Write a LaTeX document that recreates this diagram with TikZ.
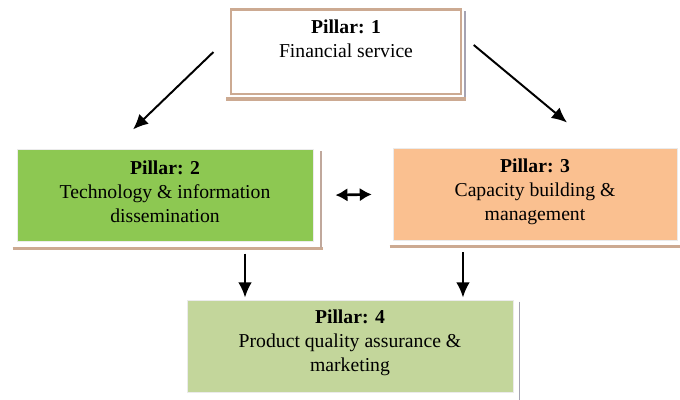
\documentclass[tikz,border=0pt]{standalone}
\usepackage{fontspec}
\setmainfont{Liberation Serif}
\usetikzlibrary{arrows.meta,calc}

\definecolor{leafgreen}{RGB}{141,200,82}
\definecolor{peach}{RGB}{250,192,144}
\definecolor{olivelight}{RGB}{195,214,155}
\definecolor{rimtan}{RGB}{204,170,146}
\definecolor{rimgrey}{RGB}{165,163,178}

\tikzset{
  pillar/.style={draw=white!92!black, line width=0.6pt, inner sep=0pt},
  txt/.style={anchor=north, align=center, font=\fontsize{14}{17}\selectfont},
  rim/.style={rimtan, line width=2.2pt},
  side/.style={rimgrey, line width=1.2pt},
  arr/.style={-{Latex[length=3.8mm,width=3.4mm]}, line width=1.4pt},
  dbl/.style={{Latex[length=3mm,width=3.4mm]}-{Latex[length=3mm,width=3.4mm]}, line width=1.9pt}
}

\begin{document}
\begin{tikzpicture}[x=0.025cm,y=-0.025cm]
  \useasboundingbox (0,0) rectangle (680,400);

  % boxes
  \node[pillar, fill=white, draw=rimtan, line width=1pt,
        minimum width=5.75cm, minimum height=2.1cm] (p1) at (346,52) {};
  \node[pillar, fill=leafgreen, minimum width=7.4cm, minimum height=2.28cm] (p2) at (165,195.5) {};
  \node[pillar, fill=peach, minimum width=7.1cm, minimum height=2.3cm] (p3) at (535,194) {};
  \node[pillar, fill=olivelight, minimum width=8.15cm, minimum height=2.3cm] (p4) at (350,346) {};

  % rims round the boxes
  \draw[rim] (p1.north west) -- (p1.north east);
  \draw[rim, line width=2.8pt] ([shift={(-0.1cm,-0.1cm)}]p1.south west) -- ([shift={(0.1cm,-0.1cm)}]p1.south east);
  \draw[side] ([shift={(0.08cm,-0.05cm)}]p1.north east) -- ([shift={(0.08cm,-0.05cm)}]p1.south east);
  \draw[rim] ([shift={(-0.1cm,-0.17cm)}]p2.south west) -- ([shift={(0.25cm,-0.17cm)}]p2.south east);
  \draw[side, rimtan!70!rimgrey] ([shift={(0.18cm,-0.05cm)}]p2.north east) -- ([shift={(0.18cm,-0.17cm)}]p2.south east);
  \draw[rim] ([shift={(-0.07cm,-0.15cm)}]p3.south west) -- ([shift={(0.1cm,-0.15cm)}]p3.south east);
  \draw[side] ([shift={(0.15cm,-0.05cm)}]p4.north east) -- ([shift={(0.15cm,-0.2cm)}]p4.south east);

  % labels
  \node[txt] (t1) at ([yshift=-0.14cm]p1.north) {\textbf{Pillar: 1}\\Financial service};
  \node[txt] (t2) at ([yshift=-0.16cm]p2.north) {\textbf{Pillar: 2}\\Technology \& information\\dissemination};
  \node[txt] (t3) at ([yshift=-0.16cm]p3.north) {\textbf{Pillar: 3}\\Capacity building \&\\management};
  \node[txt] (t4) at ([yshift=-0.14cm]p4.north) {\textbf{Pillar: 4}\\Product quality assurance \&\\marketing};

  % arrows
  \draw[arr] ([xshift=-0.42cm]p1.west) -- ([shift={(-0.8cm,0.5cm)}]p2.north);
  \draw[arr] ([shift={(0.3cm,0.175cm)}]p1.east) -- ([shift={(0.8cm,0.625cm)}]p3.north);
  \draw[dbl, shorten <=0.55cm, shorten >=0.52cm] (p2.east) -- (p3.west);
  \coordinate (d2) at ([shift={(2cm,-0.3cm)}]p2.south);
  \coordinate (d3) at ([shift={(-1.8cm,-0.3cm)}]p3.south);
  \draw[arr] (d2) -- ([yshift=0.05cm]d2 |- p4.north);
  \draw[arr] (d3) -- ([yshift=0.05cm]d3 |- p4.north);
\end{tikzpicture}
\end{document}
